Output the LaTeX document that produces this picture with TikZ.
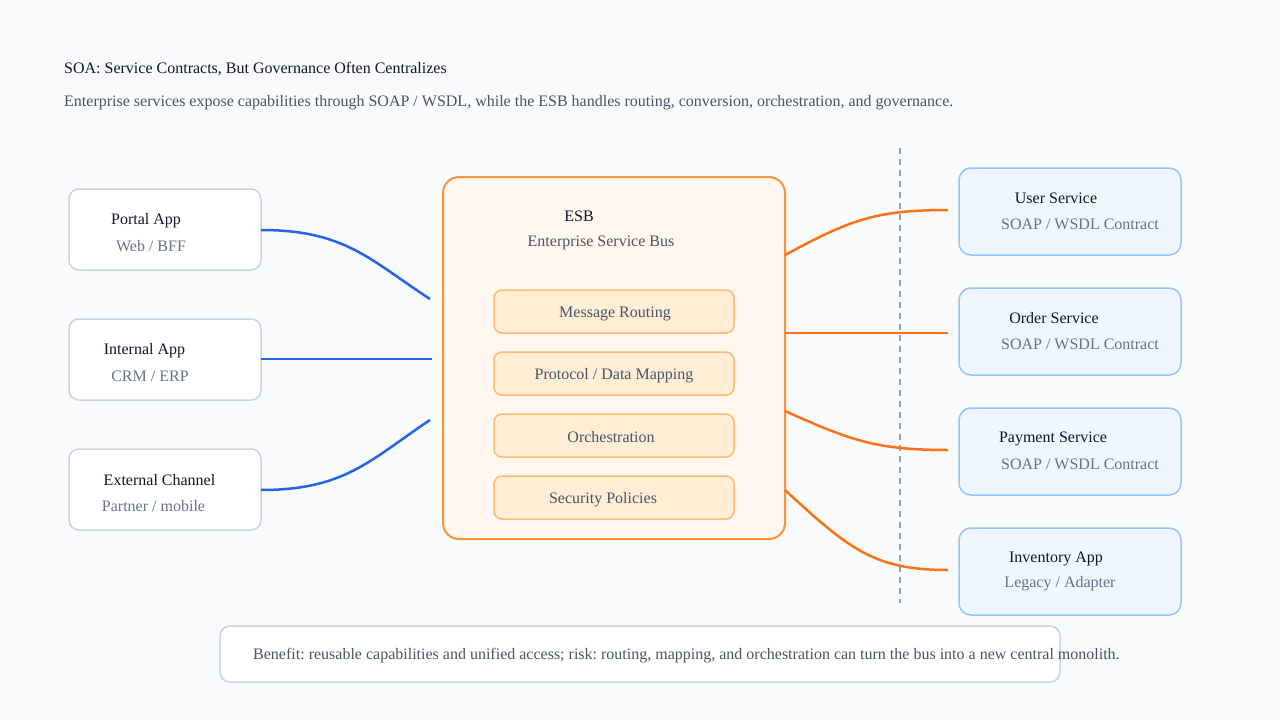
\documentclass[tikz,border=0pt]{standalone}
\usepackage{fontspec}
\setmainfont{Liberation Serif}
\frenchspacing
\definecolor{bg}{HTML}{F8FAFC}
\definecolor{ink}{HTML}{0F172A}
\definecolor{sub}{HTML}{475569}
\definecolor{muted}{HTML}{64748B}
\definecolor{gborder}{HTML}{CBD5E1}
\definecolor{blueline}{HTML}{2563EB}
\definecolor{orangeline}{HTML}{F97316}
\definecolor{esbfill}{HTML}{FFF7ED}
\definecolor{esbdraw}{HTML}{FB923C}
\definecolor{capfill}{HTML}{FFEDD5}
\definecolor{capdraw}{HTML}{FDBA74}
\definecolor{svcfill}{HTML}{EFF6FF}
\definecolor{svcdraw}{HTML}{93C5FD}
\definecolor{dashc}{HTML}{94A3B8}
\begin{document}
\begin{tikzpicture}[x=1pt,y=-1pt,
  clientbox/.style={draw=gborder,fill=white,line width=1.5pt,rounded corners=10pt},
  esbbox/.style={draw=esbdraw,fill=esbfill,line width=2pt,rounded corners=16pt},
  capbox/.style={draw=capdraw,fill=capfill,line width=1.5pt,rounded corners=8pt},
  svcbox/.style={draw=svcdraw,fill=svcfill,line width=1.5pt,rounded corners=12pt},
  notebox/.style={draw=gborder,fill=white,line width=1.5pt,rounded corners=10pt},
  ttl/.style={inner sep=0pt,text=ink,font=\fontsize{16}{19}\selectfont},
  subt/.style={inner sep=0pt,text=muted,font=\fontsize{16}{19}\selectfont},
  captxt/.style={inner sep=0pt,text=sub,font=\fontsize{16}{19}\selectfont},
  bline/.style={draw=blueline,line width=2.5pt},
  oline/.style={draw=orangeline,line width=2.5pt},
]
\useasboundingbox (0,0) rectangle (1280,720);
\fill[bg] (0,0) rectangle (1280,720);

% header
\node[ttl,anchor=west] (title) at (64,69) {SOA: Service Contracts, But Governance Often Centralizes};
\node[captxt,anchor=west] (subtitle) at (64,103) {Enterprise services expose capabilities through SOAP / WSDL, while the ESB handles routing, conversion, orchestration, and governance.};

% dashed boundary
\coordinate (dtop) at (900,148);
\coordinate (dbot) at (900,603);
\draw[dashc,line width=1.5pt,dash pattern=on 6pt off 5pt] (dtop) -- (dbot);

% clients
\draw[clientbox] (69,189) rectangle (261,270);
\draw[clientbox] (69,319) rectangle (261,400);
\draw[clientbox] (69,449) rectangle (261,530);
\node[ttl] (portal) at (146,220.5) {Portal App};
\node[subt] (portals) at (151,246) {Web / BFF};
\node[ttl] (internal) at (144.5,350.5) {Internal App};
\node[subt] (internals) at (150,376) {CRM / ERP};
\node[ttl] (external) at (159.5,480.5) {External Channel};
\node[subt] (externals) at (153.5,506) {Partner / mobile};

% ESB
\draw[esbbox] (443,177) rectangle (785,539);
\node[ttl] (esb) at (579,216) {ESB};
\node[captxt] (esbs) at (601,243) {Enterprise Service Bus};
\draw[capbox] (494,290) rectangle (734,333);
\draw[capbox] (494,352) rectangle (734,395);
\draw[capbox] (494,414) rectangle (734,457);
\draw[capbox] (494,476) rectangle (734,519);
\node[captxt] (c1) at (615,314) {Message Routing};
\node[captxt] (c2) at (614,376) {Protocol / Data Mapping};
\node[captxt] (c3) at (611,437.5) {Orchestration};
\node[captxt] (c4) at (603,500) {Security Policies};

% services
\draw[svcbox] (959,168) rectangle (1181,255);
\draw[svcbox] (959,288) rectangle (1181,375);
\draw[svcbox] (959,408) rectangle (1181,495);
\draw[svcbox] (959,528) rectangle (1181,615);
\node[ttl] (s1) at (1056,198.5) {User Service};
\node[subt] (s1s) at (1080,224) {SOAP / WSDL Contract};
\node[ttl] (s2) at (1054,318.5) {Order Service};
\node[subt] (s2s) at (1080,344) {SOAP / WSDL Contract};
\node[ttl] (s3) at (1053,438.5) {Payment Service};
\node[subt] (s3s) at (1080,464) {SOAP / WSDL Contract};
\node[ttl] (s4) at (1056,558.5) {Inventory App};
\node[subt] (s4s) at (1060,584) {Legacy / Adapter};

% connector endpoints
\coordinate (pA) at (261,230);
\coordinate (pB) at (430,299);
\coordinate (iA) at (261,359);
\coordinate (iB) at (432,359);
\coordinate (eA) at (261,490);
\coordinate (eB) at (430,420);
\coordinate (o1A) at (785,255);
\coordinate (o1B) at (948,210);
\coordinate (o2A) at (785,333);
\coordinate (o2B) at (948,333);
\coordinate (o3A) at (785,411);
\coordinate (o3B) at (948,450);
\coordinate (o4A) at (785,490);
\coordinate (o4B) at (948,570);

\draw[bline] (pA) .. controls (345,230) and (370,260) .. (pB);
\draw[bline] (iA) -- (iB);
\draw[bline] (eA) .. controls (345,490) and (370,460) .. (eB);

\draw[oline] (o1A) .. controls (850,220) and (875,210) .. (o1B);
\draw[oline] (o2A) -- (o2B);
\draw[oline] (o3A) .. controls (850,440) and (875,450) .. (o3B);
\draw[oline] (o4A) .. controls (850,550) and (875,570) .. (o4B);

% note
\draw[notebox] (220,626) rectangle (1060,682);
\node[captxt,anchor=west] (note) at (253,656) {Benefit: reusable capabilities and unified access; risk: routing, mapping, and orchestration can turn the bus into a new central monolith.};
\end{tikzpicture}
\end{document}
